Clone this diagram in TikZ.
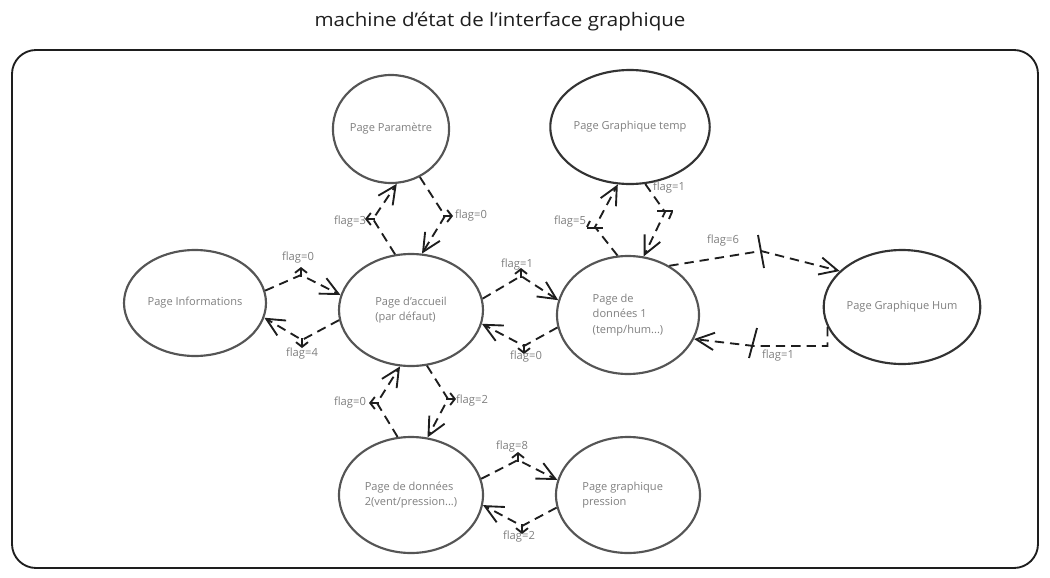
\documentclass[tikz,border=0pt]{standalone}
\usepackage{fontspec}
\setmainfont{Open Sans}
\usetikzlibrary{arrows.meta,shapes.geometric}
\definecolor{ink}{HTML}{1E1E1E}
\definecolor{ell}{HTML}{555555}
\definecolor{ellb}{HTML}{333333}
\definecolor{txt}{HTML}{7F7F7F}
\begin{document}
\begin{tikzpicture}[x=0.75pt,y=-0.75pt,
  st/.style={ellipse, draw=ell, line width=1.6pt, inner sep=0pt, text=txt, align=left,
    font=\fontsize{8.3}{11.5}\selectfont},
  stdark/.style={st, draw=ellb},
  con/.style={draw=ink, line width=1.4pt, dash pattern=on 7pt off 4.5pt,
    -{Straight Barb[length=13.5pt,width=13pt]}},
  mk/.style={draw=ink, line width=1.4pt, -{Straight Barb[length=3.5pt,width=9pt]}},
  bar/.style={draw=ink, line width=1.4pt},
  flg/.style={text=txt, font=\fontsize{8.4}{9}\selectfont, inner sep=1pt}]
\useasboundingbox (0,0) rectangle (1050,578);
\node[font=\fontsize{14}{16}\selectfont, text=ink] (title) at (500,22) {\scalebox{1.1}[1]{machine d'état de l'interface graphique}};
\draw[draw=ink, line width=1.4pt, rounded corners=18pt] (12,50) rectangle (1038,568);

% states
\node[st, minimum width=87pt, minimum height=81pt] (par) at (391,129) {Page Paramètre};
\node[stdark, minimum width=108pt, minimum height=85.5pt] (gt) at (630,127) {Page Graphique temp};
\node[st, minimum width=106.5pt, minimum height=79.5pt] (info) at (195,303) {Page Informations};
\node[st, minimum width=108pt, minimum height=84pt] (acc) at (411,310) {Page d'accueil\\(par défaut)};
\node[st, minimum width=106.5pt, minimum height=88.5pt] (d1) at (628,315) {Page de\\données 1\\(temp/hum...)};
\node[stdark, minimum width=109.5pt, minimum height=85.5pt] (hum) at (902,307) {Page Graphique Hum};
\node[st, minimum width=108pt, minimum height=87pt] (d2) at (411,495) {Page de données\\2(vent/pression...)};
\node[st, minimum width=108pt, minimum height=87pt] (pr) at (628,495) {\hspace*{-8pt}Page graphique\\\hspace*{-8pt}pression};

% corners
\coordinate (c1) at (301,275);
\coordinate (c2) at (302,340);
\coordinate (c3) at (373,219);
\coordinate (c4) at (445,216);
\coordinate (c5) at (521,276);
\coordinate (c6) at (524,346);
\coordinate (c7) at (595,227);
\coordinate (c8) at (665,212);
\coordinate (c9) at (761,251);
\coordinate (c10) at (754,346);
\coordinate (c11) at (377,403);
\coordinate (c12) at (448,399);
\coordinate (c13) at (518,460);
\coordinate (c14) at (522,526);

% connectors
\draw[con] (info.10) -- (c1) -- (acc.168);
\draw[con] (acc.188) -- (c2) -- (info.-12);
\draw[con] (acc.106) -- (c3) -- (par.-84);
\draw[con] (par.-59) -- (c4) -- (acc.79);
\draw[con] (acc.9) -- (c5) -- (d1.168);
\draw[con] (d1.190) -- (c6) -- (acc.-11);
\draw[con] (d1.100) -- (c7) -- (gt.-102);
\draw[con] (gt.-75) -- (c8) -- (d1.75);
\draw[con] (d1.50) -- (c9) -- (hum.150);
\draw[con] (hum.195) |- (c10) -- (d1.-20);
\draw[con] (d2.103) -- (c11) -- (acc.-101);
\draw[con] (acc.-74) -- (c12) -- (d2.74);
\draw[con] (d2.13) -- (c13) -- (pr.168);
\draw[con] (pr.190) -- (c14) -- (d2.-8);

% midpoint markers
\draw[mk] (c1) ++(0,2) -- ++(0,-10);
\draw[mk] (c2) ++(0,-2) -- ++(0,10);
\draw[mk] (c3) ++(2,0) -- ++(-10,0);
\draw[mk] (c4) ++(-2,0) -- ++(10,0);
\draw[mk] (c5) ++(0,2) -- ++(0,-10);
\draw[mk] (c6) ++(0,-2) -- ++(0,10);
\draw[mk] (c11) ++(2,0) -- ++(-10,0);
\draw[mk] (c12) ++(-2,0) -- ++(10,0);
\draw[mk] (c13) ++(0,2) -- ++(0,-10);
\draw[mk] (c14) ++(0,-2) -- ++(0,10);
\draw[bar] (c7) ++(-8,1) -- ++(16,0);
\draw[bar] (c7) ++(-5,-6) -- ++(-3,6);
\draw[bar] (c8) ++(-8,-1) -- ++(16,0);
\draw[bar] (c8) ++(7,0) -- ++(-3,7);
\draw[bar] (c9) ++(-3,-16) -- ++(6,33);
\draw[bar] (c10) ++(3,-18) -- ++(-8,30);

% labels
\node[flg] (l1) at (298,258) {flag=0};
\node[flg] (l2) at (302,354) {flag=4};
\node[flg] (l3) at (350,222) {flag=3};
\node[flg] (l4) at (471,216) {flag=0};
\node[flg] (l5) at (517,265) {flag=1};
\node[flg] (l6) at (526,357) {flag=0};
\node[flg] (l7) at (570,222) {flag=5};
\node[flg] (l8) at (669,188) {flag=1};
\node[flg] (l9) at (723,241) {flag=6};
\node[flg] (l10) at (778,356) {flag=1};
\node[flg] (l11) at (350,403) {flag=0};
\node[flg] (l12) at (472,401) {flag=2};
\node[flg] (l13) at (512,447) {flag=8};
\node[flg] (l14) at (519,537) {flag=2};
\end{tikzpicture}
\end{document}
